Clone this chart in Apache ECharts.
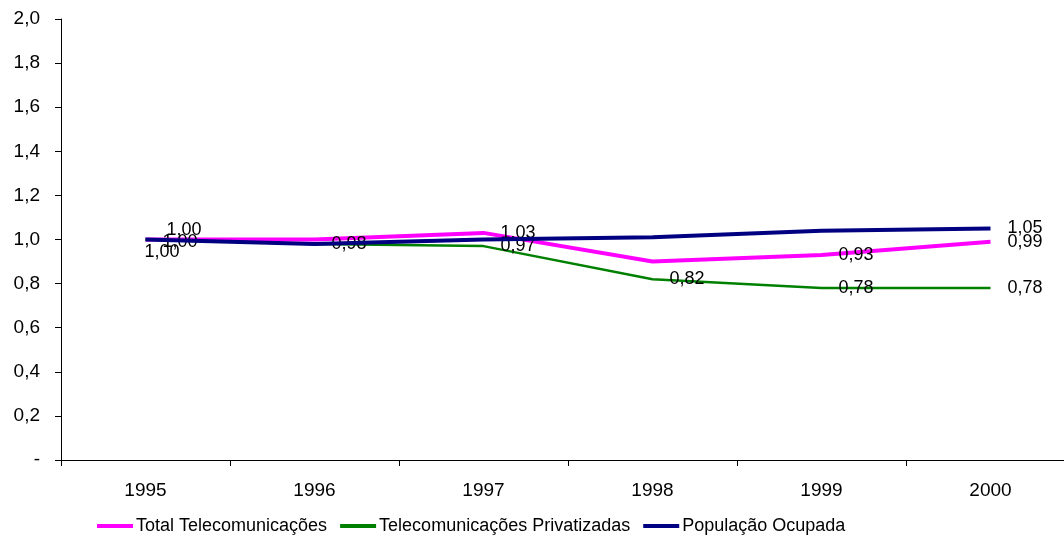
<!DOCTYPE html>
<html>
<head>
<meta charset="utf-8">
<script src="https://cdn.jsdelivr.net/npm/echarts@6/dist/echarts.min.js"></script>
<style>
  html, body { margin: 0; padding: 0; background: #fff; overflow: hidden; }
  #chart { width: 1075px; height: 537px; }
</style>
</head>
<body>
<div id="chart"></div>
<script>
// Anos e índices (base 1995 = 1,00)
var years = ['1995', '1996', '1997', '1998', '1999', '2000'];
var totalTelecom = [1.00, 1.00, 1.03, 0.90, 0.93, 0.99];
var telecomPrivatizadas = [1.00, 0.98, 0.97, 0.82, 0.78, 0.78];
var populacaoOcupada = [1.00, 0.98, 1.00, 1.01, 1.04, 1.05];
var yTicks = [0, 0.2, 0.4, 0.6, 0.8, 1.0, 1.2, 1.4, 1.6, 1.8, 2.0];

var FONT = '"Liberation Sans", Arial, sans-serif';

function fmt2(v) { return v.toFixed(2).replace('.', ','); }

// which points carry a value label, and their label placement
var labelSpec = {
  total: { show: [true, false, true, false, true, true], offsets: { 0: [4, -9] } },
  priv: { show: [true, true, true, true, true, true], offsets: { 0: [0, 3] } },
  pop: { show: [true, false, false, false, false, true], offsets: { 0: [-18, 13] } }
};

function buildData(values, spec) {
  return values.map(function (v, i) {
    var off = spec.offsets[i] || [0, 0];
    return {
      value: v,
      label: {
        show: spec.show[i],
        position: 'right',
        distance: 17,
        offset: off,
        formatter: function (p) { return fmt2(p.value); }
      }
    };
  });
}

var labelBase = { color: '#000', fontFamily: FONT, fontSize: 18 };

function lineSeries(name, values, spec, color, width, z) {
  return {
    name: name,
    type: 'line',
    data: buildData(values, spec),
    symbol: 'circle',
    symbolSize: 0.1,
    showSymbol: true,
    lineStyle: { color: color, width: width },
    itemStyle: { color: color },
    label: labelBase,
    z: z
  };
}

var chart = echarts.init(document.getElementById('chart'), null, { renderer: 'canvas' });
chart.setOption({
  backgroundColor: '#fff',
  animation: false,
  grid: { left: 61, top: 19, right: 0, bottom: 77, containLabel: false },
  legend: {
    left: 97,
    top: 517,
    padding: 0,
    itemWidth: 36,
    itemHeight: 4,
    itemGap: 13,
    textStyle: { fontFamily: FONT, fontSize: 18, color: '#000', padding: [0, 0, 0, -2] },
    data: [
      { name: 'Total Telecomunicações', icon: 'rect' },
      { name: 'Telecomunicações Privatizadas', icon: 'rect' },
      { name: 'População Ocupada', icon: 'rect' }
    ]
  },
  xAxis: {
    type: 'category',
    data: years,
    boundaryGap: true,
    axisLine: { lineStyle: { color: '#000', width: 1 } },
    axisTick: { show: true, length: 6, lineStyle: { color: '#000' } },
    axisLabel: { color: '#000', fontFamily: FONT, fontSize: 19, margin: 21 },
    splitLine: { show: false }
  },
  yAxis: {
    type: 'value',
    min: 0,
    max: 2,
    interval: 0.2,
    axisLine: { show: true, lineStyle: { color: '#000', width: 1 } },
    axisTick: { show: true, length: 6, lineStyle: { color: '#000' } },
    axisLabel: {
      color: '#000', fontFamily: FONT, fontSize: 19, margin: 21,
      formatter: function (v) {
        var t = yTicks.filter(function (y) { return Math.abs(y - v) < 1e-9; });
        if (!t.length) return '';
        return t[0] === 0 ? '-' : t[0].toFixed(1).replace('.', ',');
      }
    },
    splitLine: { show: false }
  },
  series: [
    lineSeries('Total Telecomunicações', totalTelecom, labelSpec.total, '#FF00FF', 4, 2),
    lineSeries('Telecomunicações Privatizadas', telecomPrivatizadas, labelSpec.priv, '#008000', 2.5, 3),
    lineSeries('População Ocupada', populacaoOcupada, labelSpec.pop, '#000080', 4, 4)
  ]
});
</script>
</body>
</html>
